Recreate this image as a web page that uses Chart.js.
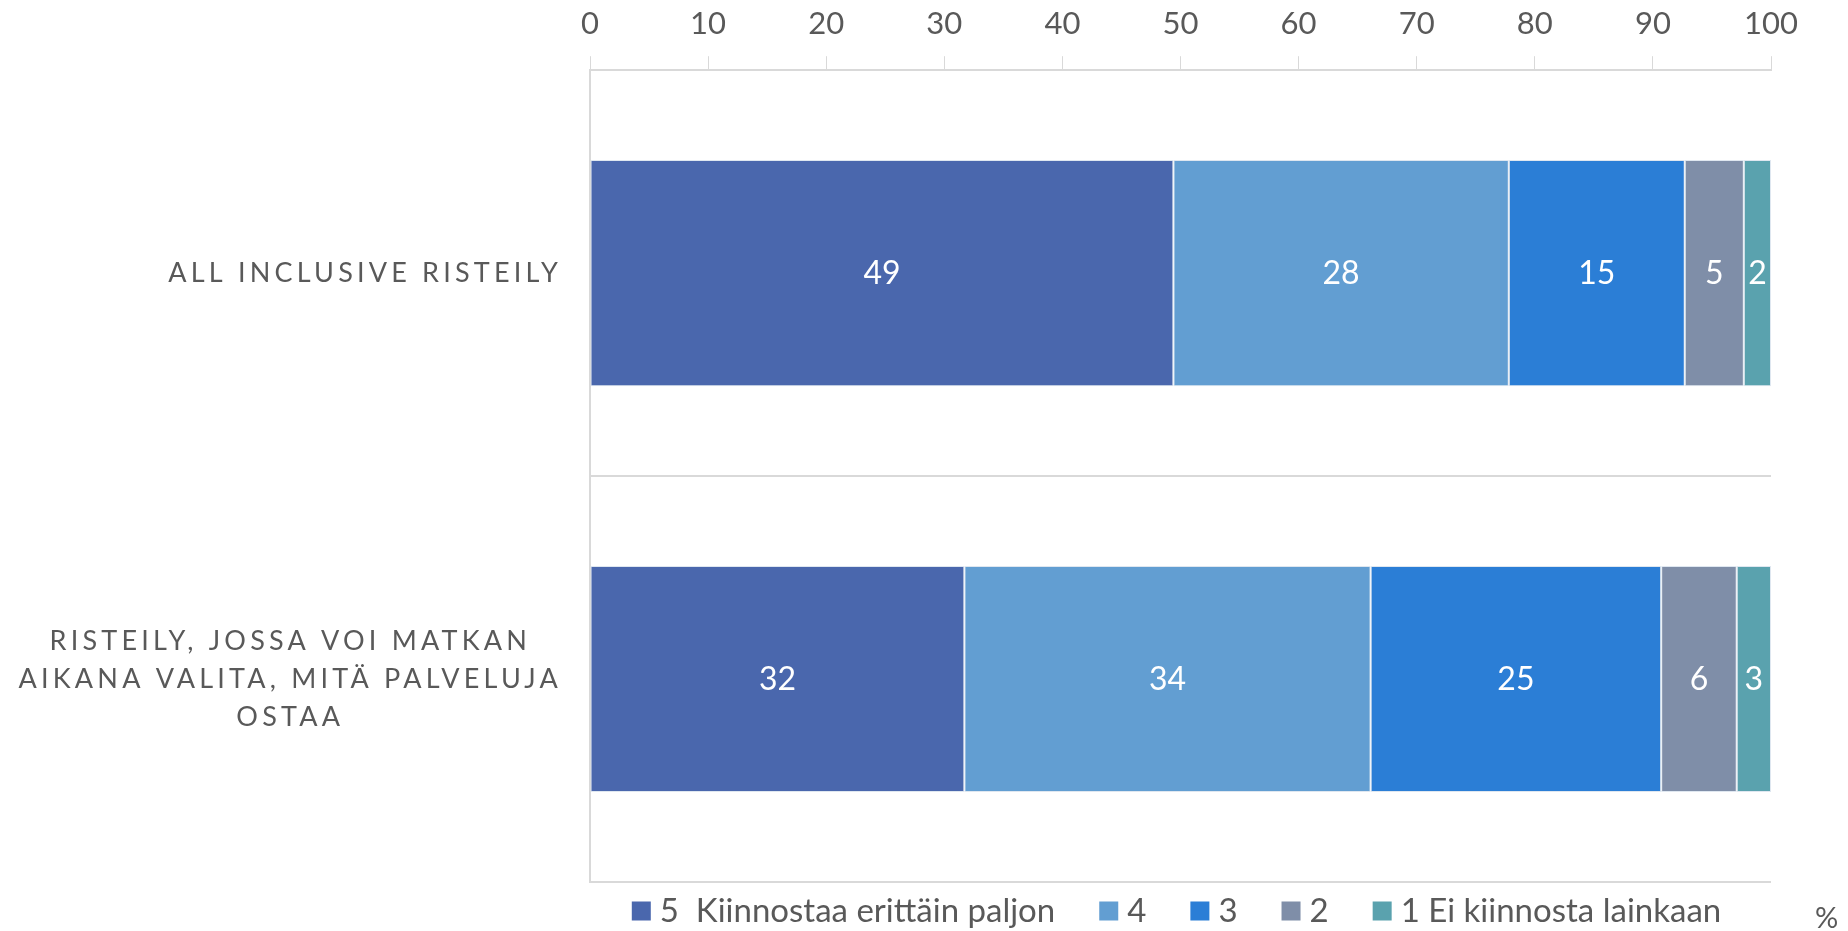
<!DOCTYPE html>
<html>
<head>
<meta charset="utf-8">
<script src="https://cdn.jsdelivr.net/npm/chart.js@4.4.0/dist/chart.umd.min.js"></script>
<style>
  html, body { margin: 0; padding: 0; background: #fff; }
  #wrap { width: 1848px; height: 931px; position: relative; }
</style>
</head>
<body>
<div id="wrap"><canvas id="chart" width="1848" height="931"></canvas></div>
<script>
const categories = [
  ["ALL INCLUSIVE RISTEILY"],
  ["RISTEILY, JOSSA VOI MATKAN", "AIKANA VALITA, MITÄ PALVELUJA", "OSTAA"]
];
const seriesNames = ["5  Kiinnostaa erittäin paljon", "4", "3", "2", "1 Ei kiinnosta lainkaan"];
const seriesColors = ["#4a67ad", "#629ed2", "#2b7ed6", "#7f8ea8", "#5aa2ae"];
const values5 = [49.4, 31.7];
const values4 = [28.4, 34.4];
const values3 = [14.9, 24.6];
const values2 = [5.0, 6.4];
const values1 = [2.3, 2.9];
const xTicks = [0, 10, 20, 30, 40, 50, 60, 70, 80, 90, 100];

const textColor = "#595959";
const gridColor = "#d9d9d9";
const fontFamily = "Lato, 'Open Sans', sans-serif";

const allValues = [values5, values4, values3, values2, values1];

// draws the white numbers inside each segment
const segmentLabels = {
  id: "segmentLabels",
  afterDatasetsDraw(chart) {
    const ctx = chart.ctx;
    ctx.save();
    ctx.fillStyle = "#ffffff";
    ctx.font = "32px " + fontFamily;
    ctx.textAlign = "center";
    ctx.textBaseline = "middle";
    chart.data.datasets.forEach((ds, i) => {
      chart.getDatasetMeta(i).data.forEach((bar, j) => {
        const left = Math.min(bar.x, bar.base);
        const right = Math.max(bar.x, bar.base);
        ctx.fillText(Math.round(ds.data[j]), (left + right) / 2, bar.y + 1);
      });
    });
    ctx.restore();
  }
};

// category labels with letter spacing, lines centred in a right-aligned block
const categoryLabels = {
  id: "categoryLabels",
  afterDraw(chart) {
    const ctx = chart.ctx;
    const yScale = chart.scales.y;
    const right = yScale.right - 30;
    ctx.save();
    ctx.fillStyle = textColor;
    ctx.font = "27px " + fontFamily;
    ctx.letterSpacing = "4.2px";
    ctx.textAlign = "center";
    ctx.textBaseline = "middle";
    const lineH = 38;
    categories.forEach((lines, i) => {
      const y = yScale.getPixelForValue(i);
      const maxW = Math.max(...lines.map(l => ctx.measureText(l).width));
      const cx = right - maxW / 2;
      const top = y - (lines.length - 1) * lineH / 2;
      lines.forEach((l, k) => ctx.fillText(l, cx + 2.1, top + k * lineH));
    });
    ctx.restore();
  }
};

// legend drawn by hand so the row can sit close under the plot
const bottomLegend = {
  id: "bottomLegend",
  afterDraw(chart) {
    const ctx = chart.ctx;
    const area = chart.chartArea;
    const box = 19, gapText = 9, gapItem = 44;
    const y = area.bottom + 29;
    ctx.save();
    ctx.font = "33px " + fontFamily;
    ctx.textBaseline = "middle";
    const widths = chart.data.datasets.map(ds => box + gapText + ctx.measureText(ds.label).width);
    const total = widths.reduce((a, b) => a + b, 0) + gapItem * (widths.length - 1);
    let x = (area.left + area.right) / 2 - total / 2 - 4;
    chart.data.datasets.forEach((ds, i) => {
      ctx.fillStyle = ds.backgroundColor;
      ctx.fillRect(x, y - box / 2, box, box);
      ctx.fillStyle = textColor;
      ctx.fillText(ds.label, x + box + gapText, y);
      x += widths[i] + gapItem;
    });
    ctx.font = "29px " + fontFamily;
    ctx.fillText("%", 1815, 919);
    ctx.restore();
  }
};

new Chart(document.getElementById("chart"), {
  type: "bar",
  data: {
    labels: categories.map(c => c.join(" ")),
    datasets: seriesNames.map((name, i) => ({
      label: name,
      data: allValues[i],
      backgroundColor: seriesColors[i],
      borderColor: "rgba(220,228,238,0.9)",
      borderWidth: 1,
      borderSkipped: false,
      barPercentage: 0.557,
      categoryPercentage: 1
    }))
  },
  options: {
    indexAxis: "y",
    responsive: false,
    animation: false,
    layout: { padding: { top: 0, right: 77, bottom: 49, left: 0 } },
    scales: {
      x: {
        position: "top",
        stacked: true,
        min: 0,
        max: 100,
        afterBuildTicks: (scale) => { scale.ticks = xTicks.map(v => ({ value: v })); },
        afterFit: (scale) => { scale.height = scale.height - 9; },
        ticks: { color: textColor, font: { family: fontFamily, size: 31 }, padding: 14, maxRotation: 0 },
        grid: { drawOnChartArea: false, tickLength: 14, color: gridColor },
        border: { color: gridColor, width: 2 }
      },
      y: {
        stacked: true,
        ticks: { display: false },
        grid: { offset: true, drawTicks: false, color: gridColor, lineWidth: 2 },
        border: { color: gridColor, width: 2 },
        afterFit: (scale) => { scale.width = 590; }
      }
    },
    plugins: {
      legend: { display: false },
      tooltip: { enabled: false }
    }
  },
  plugins: [segmentLabels, categoryLabels, bottomLegend]
});
</script>
</body>
</html>
